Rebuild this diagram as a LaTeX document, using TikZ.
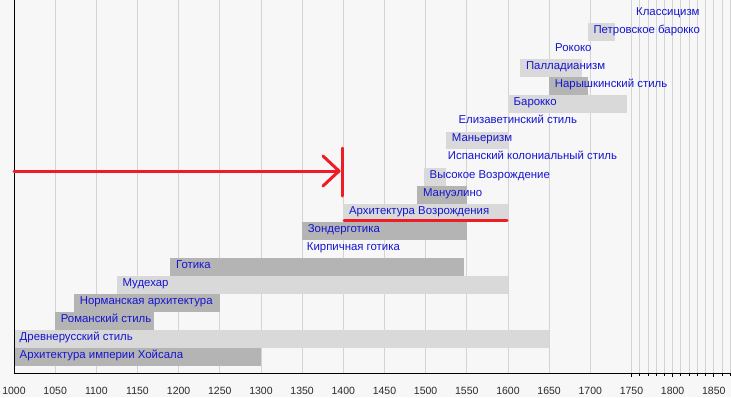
\documentclass[tikz,border=0pt]{standalone}
\usepackage{fontspec}
\setmainfont{Liberation Sans}
\definecolor{bgc}{HTML}{F7F7F7}
\definecolor{gridc}{HTML}{D4D4D4}
\definecolor{darkbar}{HTML}{B4B4B4}
\definecolor{lightbar}{HTML}{D9D9D9}
\definecolor{lbl}{HTML}{1515D0}
\definecolor{yearc}{HTML}{2A2A2A}
\definecolor{redmark}{HTML}{EE1C25}
\newcommand\yx[1]{14+(#1-1000)*0.8233}
\newcommand\rowtop[1]{348.3-18.06*#1}
% row, start, end, colour, name, text
\newcommand\stylebar[6]{%
  \fill[#4] ({\yx{#2}},{\rowtop{#1}}) rectangle ({\yx{#3}},{\rowtop{#1}+17.8});
  \node[lab] (#5) at ({\yx{#2}+5.5},{\rowtop{#1}+10.3}) {#6};}
% row, x, name, text (no bar)
\newcommand\stylelab[4]{%
  \node[lab] (#3) at (#2,{\rowtop{#1}+10.3}) {#4};}
\tikzset{
  lab/.style={anchor=base west, text=lbl, inner sep=0pt, font=\fontsize{11.4}{13}\selectfont},
  yearlab/.style={anchor=base, text=yearc, inner sep=0pt, font=\fontsize{10.5}{12}\selectfont},
  gridline/.style={draw=gridc, line width=0.9pt},
  redline/.style={draw=redmark, line width=3pt, line cap=round, line join=round}
}
\begin{document}
\begin{tikzpicture}[x=1pt,y=-1pt]
\fill[bgc] (0,0) rectangle (731,397);
\useasboundingbox (0,0) rectangle (731,397);
% grid
\foreach \yy in {1050,1100,...,1750}{\draw[gridline] ({\yx{\yy}},0) -- ({\yx{\yy}},373);}
\foreach \yy in {1760,1770,...,1870}{\draw[gridline] ({\yx{\yy}},0) -- ({\yx{\yy}},373);}
% bars and labels
\stylebar{0}{1000}{1300}{darkbar}{hoysala}{Архитектура империи Хойсала}
\stylebar{1}{1000}{1650}{lightbar}{drevn}{Древнерусский стиль}
\stylebar{2}{1050}{1170}{darkbar}{roman}{Романский стиль}
\stylebar{3}{1073}{1250}{darkbar}{norman}{Норманская архитектура}
\stylebar{4}{1125}{1600}{lightbar}{mudejar}{Мудехар}
\stylebar{5}{1190}{1546}{darkbar}{gothic}{Готика}
\stylelab{6}{306.7}{brick}{Кирпичная готика}
\stylebar{7}{1350}{1550}{darkbar}{sonder}{Зондерготика}
\stylebar{8}{1400}{1600}{lightbar}{renai}{Архитектура Возрождения}
\stylebar{9}{1490}{1550}{darkbar}{manuel}{Мануэлино}
\stylebar{10}{1498}{1525}{lightbar}{highren}{Высокое Возрождение}
\stylelab{11}{447.7}{spancol}{Испанский колониальный стиль}
\stylebar{12}{1525}{1600}{lightbar}{manner}{Маньеризм}
\stylelab{13}{458.3}{eliz}{Елизаветинский стиль}
\stylebar{14}{1600}{1745}{lightbar}{baroque}{Барокко}
\stylebar{15}{1650}{1697}{darkbar}{naryshk}{Нарышкинский стиль}
\stylebar{16}{1615}{1690}{lightbar}{pallad}{Палладианизм}
\stylelab{17}{555}{rococo}{Рококо}
\stylebar{18}{1697}{1730}{lightbar}{petrine}{Петровское барокко}
\stylelab{19}{636}{classic}{Классицизм}
% axes
\draw[black, line width=1pt] (14,0) -- (14,373) -- (731,373);
\foreach \yy in {1760,1770,1780,1790,1810,1820,1830,1840,1860,1870}{\draw[black, line width=0.8pt] ({\yx{\yy}},373) -- ({\yx{\yy}},375.5);}
\foreach \yy in {1750,1800,1850}{\draw[black, line width=0.8pt] ({\yx{\yy}},373) -- ({\yx{\yy}},377);}
\foreach \yy in {1000,1050,...,1850}{\node[yearlab] (y\yy) at ({\yx{\yy}},394) {\yy};}
% red marks
\coordinate (as) at (14,171);
\coordinate (at) at (339,171);
\coordinate (vt) at (342,148);
\coordinate (vb) at (342,196);
\coordinate (us) at (344,220);
\coordinate (ue) at (507,220);
\draw[redline] (as) -- (at);
\draw[redline] (at) ++(-16,-15) -- (at) -- ++(-16,15);
\draw[redline] (vt) -- (vb);
\draw[redline] (us) -- (ue);
\end{tikzpicture}
\end{document}
